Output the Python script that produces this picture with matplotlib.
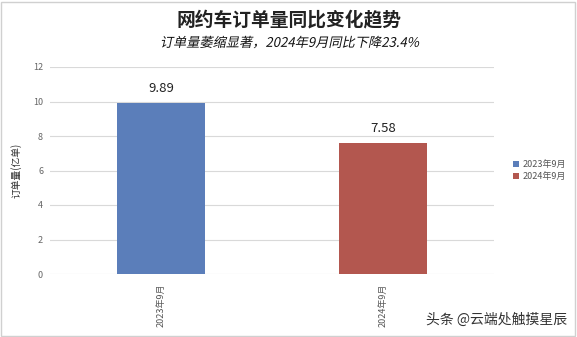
import matplotlib.pyplot as plt
from matplotlib.patches import Rectangle, PathPatch
from matplotlib.textpath import TextPath
from matplotlib.font_manager import FontProperties
from matplotlib.transforms import Affine2D

plt.rcParams['font.family'] = ['Noto Sans CJK SC', 'DejaVu Sans']

categories = ['2023年9月', '2024年9月']
orders = [9.89, 7.58]
colors = ['#5B7EBA', '#B3574F']
yticks = [0, 2, 4, 6, 8, 10, 12]
subtitle = '订单量萎缩显著，2024年9月同比下降23.4%'

W, H, DPI = 577, 337, 100
fig = plt.figure(figsize=(W / DPI, H / DPI), dpi=DPI)
ax = fig.add_axes([50 / W, 1 - 274 / H, 444 / W, 207 / H])

x = range(len(categories))
ax.bar(x, orders, width=0.4, color=colors, label=categories, zorder=3)
for xi, v in zip(x, orders):
    ax.text(xi, v + 0.5, f'{v:.2f}', ha='center', va='bottom', fontsize=9.5,
            color='#222222')

ax.set_xlim(-0.5, 1.5)
ax.set_ylim(0, 12)
ax.set_yticks(yticks)
ax.set_yticklabels([str(t) for t in yticks], fontsize=6.5, color='#666666')
ax.set_xticks(list(x))
ax.set_xticklabels(categories, rotation=90, fontsize=6.5, color='#555555')
ax.tick_params(axis='y', length=0, pad=5)
ax.tick_params(axis='x', length=0, pad=7)
ax.grid(axis='y', color='#d9d9d9', linewidth=0.8, zorder=0)
for s in ax.spines.values():
    s.set_visible(False)
ax.set_ylabel('订单量(亿单)', fontsize=7, color='#333333')
ax.yaxis.set_label_coords(-28 / 444, 0.5)

fig.text(0.5, 1 - 20 / H, '网约车订单量同比变化趋势', ha='center', va='center',
         fontsize=13.5, fontweight='bold', color='#222222')

# italic subtitle: CJK font has no italic, so shear the glyph outlines
tp = TextPath((0, 0), subtitle, size=9.5, prop=FontProperties(family='Noto Sans CJK SC'))
ext = tp.get_extents()
tr = (Affine2D().translate(-(ext.x0 + ext.x1) / 2, -(ext.y0 + ext.y1) / 2)
      .skew_deg(12, 0).scale(DPI / 72).translate(W / 2 + 2, H - 42))
fig.patches.append(PathPatch(tp, transform=tr, facecolor='#111111',
                             edgecolor='none'))

ax.legend(loc='center left', bbox_to_anchor=(455 / 444, 0.5),
          frameon=False, fontsize=6.5, handlelength=0.7, handleheight=0.7,
          handletextpad=0.4, labelspacing=0.3, labelcolor='#555555')

fig.text(1 - 10 / W, 1 - 320 / H, '头条 @云端处触摸星辰', ha='right', va='center',
         fontsize=10, color='#333333')

fig.patches.append(Rectangle((1 / W, 1 / H), 574 / W, 334 / H,
                             transform=fig.transFigure, fill=False,
                             edgecolor='#d0d0d0', linewidth=1))

fig.savefig('out.png', dpi=DPI)
